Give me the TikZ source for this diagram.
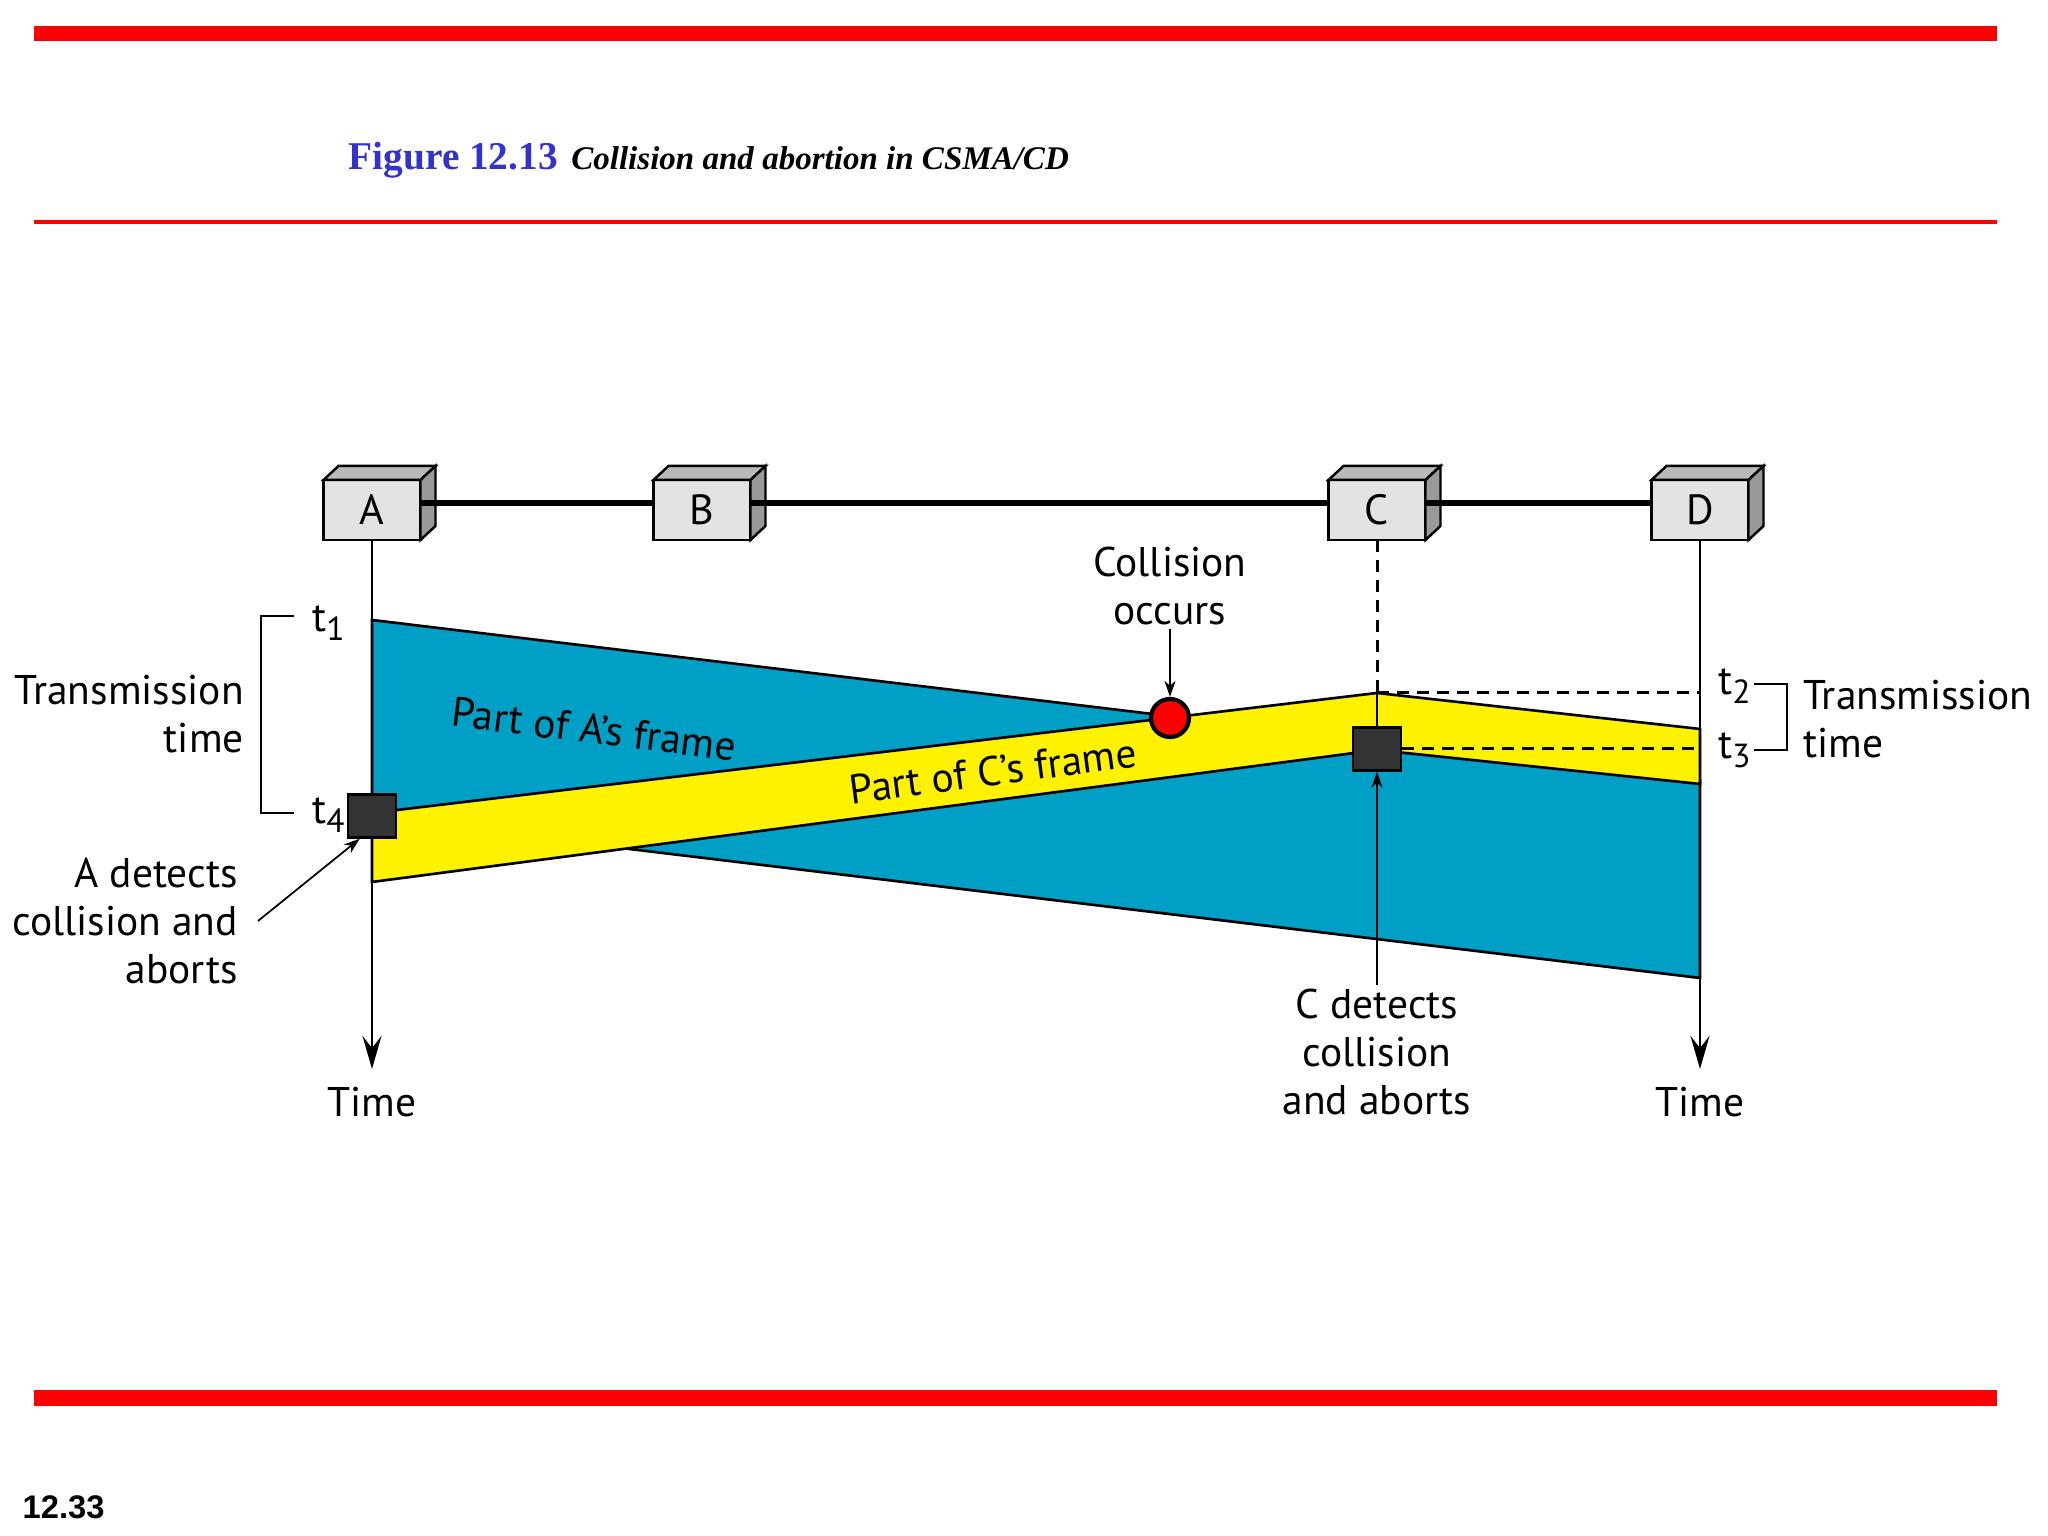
\documentclass[tikz,border=0pt]{standalone}
\usepackage{fontspec}
\setmainfont{PT Sans}
\newfontfamily\titlefont{Liberation Serif}
\newfontfamily\numfont{Liberation Sans}
\usepackage{xcolor}
\usetikzlibrary{shapes,arrows.meta}

\definecolor{trameA}{RGB}{0,160,198}
\definecolor{bleutitre}{RGB}{51,51,204}
\newcommand{\tsub}[1]{t\raisebox{-0.45ex}{\fontsize{9.5}{10}\selectfont #1}}

\begin{document}
\begin{tikzpicture}[
    station/.style={rectangle, draw, line width=0.7pt, fill=gray!22, minimum width=0.97cm, minimum height=0.6cm, inner sep=0pt, outer sep=0pt, font=\fontsize{12}{13.6}\selectfont},
    label/.style={font=\fontsize{11.8}{13.6}\selectfont, inner sep=1pt},
    detect/.style={rectangle, draw, line width=0.7pt, fill=black!80, minimum width=0.48cm, minimum height=0.43cm, inner sep=0pt},
    frame/.style={draw, line width=0.75pt, line join=miter},
    timearrow/.style={line width=0.6pt, -{Stealth[length=3.3mm,width=1.9mm,inset=1.2mm]}},
    pointer/.style={line width=0.5pt, -{Stealth[length=1.6mm,width=1.1mm,inset=0.5mm]}},
    guide/.style={line width=0.85pt, dash pattern=on 1.2mm off 0.8mm},
    brace/.style={line width=0.5pt}
]
\useasboundingbox (0,0) rectangle (20.48,15.36);

% Cadre de la page
\fill[red] (0.34,14.945) rectangle (19.97,15.095);
\fill[red] (0.34,13.12) rectangle (19.97,13.16);
\fill[red] (0.34,1.30) rectangle (19.97,1.46);
\node[anchor=base west, inner sep=0pt] (titre) at (3.48,13.66) {\titlefont\bfseries\fontsize{11.2}{13}\selectfont\color{bleutitre}Figure 12.13};
\node[anchor=base west, inner sep=0pt] (legende) at ([xshift=1.2mm]titre.base east) {\titlefont\bfseries\itshape\fontsize{9.4}{12}\selectfont Collision and abortion in CSMA/CD};
\node[anchor=west, inner sep=0pt] (page) at (0.22,0.29) {\numfont\bfseries\fontsize{9.3}{11}\selectfont 12.33};

% Stations
\node[station] (A) at (3.72,10.26) {A};
\node[station] (B) at (7.02,10.26) {B};
\node[station] (C) at (13.77,10.26) {C};
\node[station] (D) at (17.00,10.26) {D};
\foreach \s in {A,B,C,D} {
    \filldraw[line width=0.7pt, fill=gray!55] (\s.north west) -- ++(0.15,0.14) -- ++(0.97,0) -- (\s.north east) -- cycle;
    \filldraw[line width=0.7pt, fill=gray!80] (\s.north east) -- ++(0.15,0.14) -- ++(0,-0.6) -- (\s.south east) -- cycle;
}

% Bus
\foreach \u/\v in {A/B,B/C,C/D}
    \draw[line width=1.5pt] ([yshift=0.7mm]\u.east) -- ([yshift=0.7mm]\v.west);

% Trame de A
\coordinate (a1) at (3.72,9.16);
\coordinate (a2) at (17.00,7.56);
\coordinate (a3) at (17.00,5.58);
\coordinate (a4) at (3.72,7.18);
\filldraw[frame, fill=trameA] (a1) -- (a2) -- (a3) -- (a4) -- cycle;

% Trame de C
\coordinate (c1) at (3.72,7.23);
\coordinate (t2C) at (13.77,8.43);
\coordinate (c3) at (17.00,8.07);
\coordinate (c4) at (17.00,7.52);
\coordinate (c5) at (13.77,7.86);
\coordinate (c6) at (3.72,6.54);
\filldraw[frame, fill=yellow] (c1) -- (t2C) -- (c3) -- (c4) -- (c5) -- (c6) -- cycle;

% Axes du temps
\coordinate (finA) at (3.72,4.67);
\coordinate (finD) at (17.00,4.67);
\coordinate (t2D) at (17.00,8.43);
\coordinate (t3D) at (17.00,7.87);
\draw[timearrow] (A) -- (finA);
\draw[timearrow] (D) -- (finD);
\node[label] (timeA) at (3.72,4.34) {Time};
\node[label] (timeD) at (17.00,4.34) {Time};

% Detection et collision
\node[detect] (detA) at (3.72,7.20) {};
\node[detect] (detC) at (13.77,7.87) {};
\node[circle, draw, line width=1.2pt, fill=red, minimum size=0.38cm, inner sep=0pt] (coll) at (11.70,8.18) {};
\draw[guide] (C) -- (t2C);
\draw[line width=0.6pt] (t2C) -- (detC);
\draw[guide] (t2C) -- (t2D);
\draw[guide] (detC) -- (t3D);

% Textes
\node[label, rotate=-7] (trA) at (5.94,8.07) {Part of A’s frame};
\node[label, rotate=7.5] (trC) at (9.93,7.65) {Part of C’s frame};
\node[label, anchor=west] (t1) at (3.08,9.13) {\tsub{1}};
\node[label, anchor=west] (t4) at (3.08,7.21) {\tsub{4}};
\node[label, anchor=west] (t2) at (17.14,8.50) {\tsub{2}};
\node[label, anchor=west] (t3) at (17.14,7.86) {\tsub{3}};
\node[label, align=right, anchor=east] (tmA) at (2.48,8.22) {Transmission\\time};
\node[label, align=left, anchor=west] (tmD) at (17.99,8.17) {Transmission\\time};
\draw[brace] (2.94,9.20) -- (2.61,9.20) -- (2.61,7.23) -- (2.94,7.23);
\draw[brace] (17.54,8.52) -- (17.87,8.52) -- (17.87,7.86) -- (17.54,7.86);

% Annotations
\node[label, align=right, anchor=east] (detAtxt) at (2.42,6.15) {A detects\\collision and\\aborts};
\draw[pointer] ([xshift=1.6mm]detAtxt.east) -- ([xshift=1.3mm]detA.south west);
\node[label, align=center] (colltxt) at (11.70,9.50) {Collision\\occurs};
\draw[pointer] (colltxt) -- (coll);
\node[label, align=center] (detCtxt) at (13.77,4.84) {C detects\\collision\\and aborts};
\draw[pointer] (detCtxt) -- (detC);

\end{tikzpicture}
\end{document}
